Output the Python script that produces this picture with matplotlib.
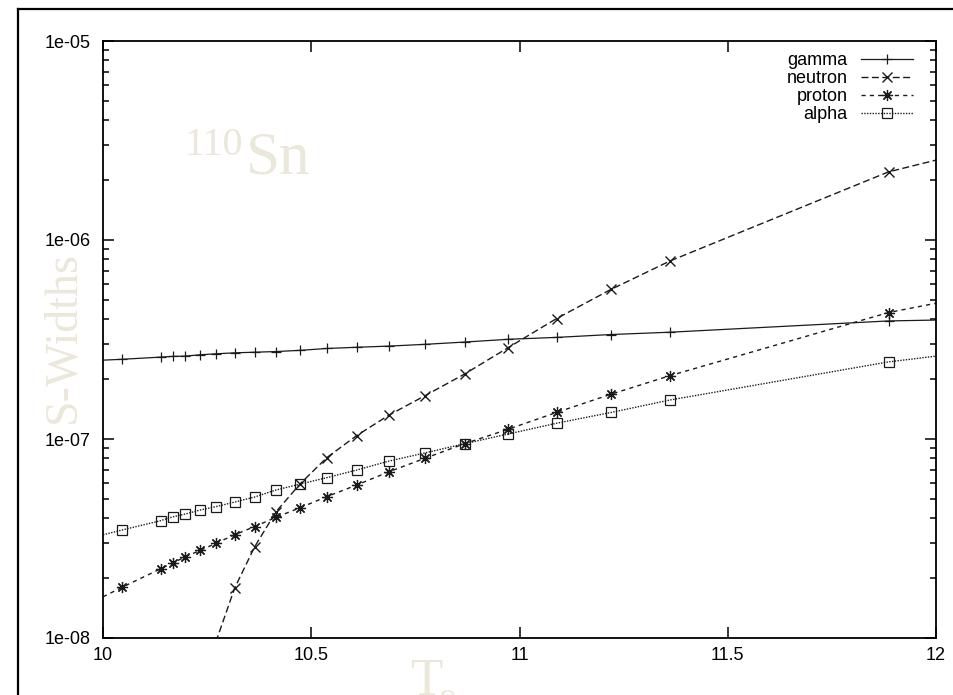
import numpy as np
import matplotlib
matplotlib.use("Agg")
import matplotlib.pyplot as plt
from matplotlib.lines import Line2D
from matplotlib.ticker import LogLocator, FixedLocator, NullFormatter

plt.rcParams['font.family'] = ['Liberation Sans', 'DejaVu Sans']

# temperature grid (T9); 10.0 and 12.0 are the curve ends, no symbol there
t9 = [10.0, 10.046, 10.139, 10.167, 10.198, 10.234, 10.271, 10.316, 10.364, 10.415,
      10.474, 10.537, 10.609, 10.687, 10.773, 10.868, 10.973, 11.089, 11.220,
      11.361, 11.886, 12.0]

gamma = [2.49e-7, 2.515e-7, 2.58e-7, 2.60e-7, 2.61e-7, 2.65e-7, 2.68e-7, 2.71e-7,
         2.73e-7, 2.75e-7, 2.79e-7, 2.85e-7, 2.89e-7, 2.93e-7, 2.99e-7, 3.07e-7,
         3.17e-7, 3.24e-7, 3.35e-7, 3.44e-7, 3.92e-7, 3.96e-7]

# neutron width drops out of range below T9 ~ 10.27
t9_n = t9[6:]
neutron = [9.55e-9, 1.78e-8, 2.87e-8, 4.30e-8, 5.97e-8, 8.05e-8, 1.04e-7, 1.32e-7,
           1.65e-7, 2.12e-7, 2.88e-7, 4.03e-7, 5.65e-7, 7.84e-7, 2.20e-6, 2.52e-6]

proton = [1.61e-8, 1.80e-8, 2.23e-8, 2.38e-8, 2.56e-8, 2.76e-8, 2.99e-8, 3.30e-8,
          3.63e-8, 4.04e-8, 4.52e-8, 5.13e-8, 5.87e-8, 6.85e-8, 8.00e-8, 9.47e-8,
          1.12e-7, 1.36e-7, 1.68e-7, 2.08e-7, 4.32e-7, 4.81e-7]

alpha = [3.30e-8, 3.49e-8, 3.89e-8, 4.06e-8, 4.20e-8, 4.40e-8, 4.57e-8, 4.82e-8,
         5.11e-8, 5.54e-8, 5.94e-8, 6.39e-8, 6.98e-8, 7.75e-8, 8.51e-8, 9.47e-8,
         1.06e-7, 1.20e-7, 1.36e-7, 1.57e-7, 2.44e-7, 2.61e-7]

xticks = [10, 10.5, 11, 11.5, 12]
xticklabels = ['10', '10.5', '11', '11.5', '12']
yticks = [1e-8, 1e-7, 1e-6, 1e-5]
yticklabels = ['1e-08', '1e-07', '1e-06', '1e-05']

W, H = 954, 695
fig = plt.figure(figsize=(W / 100, H / 100), dpi=100)
ax = fig.add_axes([103 / W, 1 - 638 / H, 833 / W, 597 / H])

ink = '#1a1a1a'
ax.plot(t9, gamma, color=ink, lw=0.9, ls='-', marker='+', ms=7, mew=0.9,
        markevery=slice(1, -1), label='gamma')
ax.plot(t9_n, neutron, color=ink, lw=1.0, ls=(0, (5, 2.5)), marker='x', ms=6.5,
        mew=1.0, markevery=slice(1, -1), label='neutron')
ax.plot(t9, proton, color=ink, lw=1.0, ls=(0, (3, 3)), marker=(8, 2, 0), ms=8,
        mew=0.9, markevery=slice(1, -1), label='proton')
ax.plot(t9, alpha, color=ink, lw=1.0, ls=(0, (1, 1)), marker='s', ms=6.5,
        mew=0.9, mfc='none', markevery=slice(1, -1), label='alpha')

ax.set_yscale('log')
ax.set_xlim(10, 12)
ax.set_ylim(1e-8, 1e-5)
ax.xaxis.set_major_locator(FixedLocator(xticks))
ax.set_xticklabels(xticklabels)
ax.yaxis.set_major_locator(FixedLocator(yticks))
ax.set_yticklabels(yticklabels)
ax.yaxis.set_minor_locator(LogLocator(base=10, subs=np.arange(2, 10)))
ax.yaxis.set_minor_formatter(NullFormatter())

ax.tick_params(which='both', direction='in', top=True, right=True, width=1.1,
               labelsize=13, colors='black')
ax.tick_params(which='major', length=8)
ax.tick_params(axis='x', which='major', pad=6.5)
ax.tick_params(axis='y', which='major', pad=9)
ax.tick_params(which='minor', length=4.5)
for s in ax.spines.values():
    s.set_linewidth(1.3)

leg = ax.legend(loc='upper right', bbox_to_anchor=(0.9724, 0.981), frameon=False,
                markerfirst=False, fontsize=13, handlelength=2.9,
                handletextpad=0.72, labelspacing=0.05, borderpad=0,
                borderaxespad=0)

# pale watermark-style labels
pale = '#ebe7da'
serif = ['Liberation Serif', 'DejaVu Serif']
fig.text(63 / W, 1 - 337 / H, 'S-Widths', rotation=90, ha='center', va='center',
         fontsize=33, color=pale, family=serif)
fig.text(185 / W, 1 - 155 / H, '110', ha='left', va='baseline', fontsize=29,
         color=pale, family=serif)
fig.text(246 / W, 1 - 173 / H, 'Sn', ha='left', va='baseline', fontsize=44,
         color=pale, family=serif)
fig.text(410 / W, 1 - 695 / H, 'T', ha='left', va='baseline', fontsize=38,
         color=pale, family=serif)
fig.text(440 / W, 1 - 712 / H, '9', ha='left', va='baseline', fontsize=24,
         color=pale, family=serif)

# outer frame, only its top and left edges fall inside the image
fig.add_artist(Line2D([17.5 / W, 17.5 / W], [0, 1 - 8.5 / H], transform=fig.transFigure,
                      color='black', lw=1.6))
fig.add_artist(Line2D([17.5 / W, 1], [1 - 8.5 / H, 1 - 8.5 / H], transform=fig.transFigure,
                      color='black', lw=1.6))

fig.savefig('out.png', dpi=100)
